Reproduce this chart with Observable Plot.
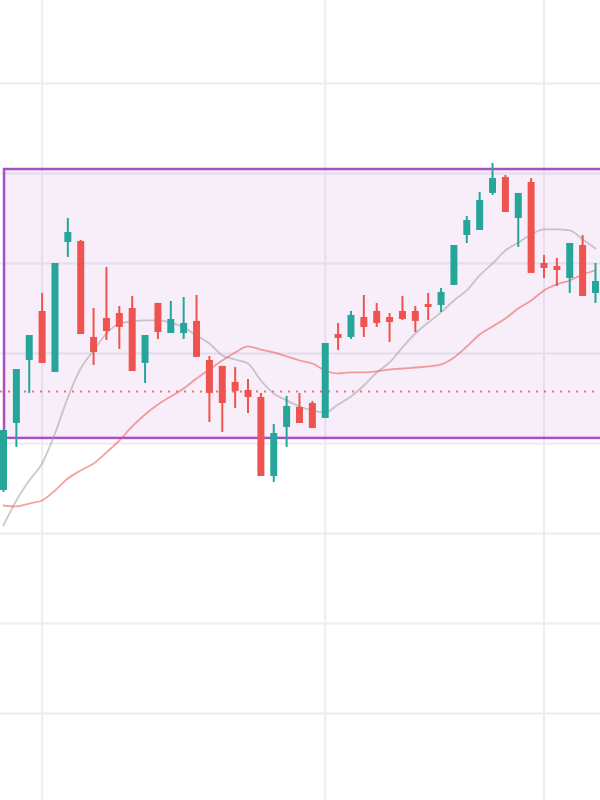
<!DOCTYPE html>
<html>
<head>
<meta charset="utf-8">
<script src="https://cdn.jsdelivr.net/npm/d3@7"></script>
<script src="https://cdn.jsdelivr.net/npm/@observablehq/plot@0.6"></script>
<style>
  html, body { margin: 0; padding: 0; background: #ffffff; }
  #chart svg { display: block; }
</style>
</head>
<body>
<div id="chart"></div>
<script>
// Candle values (open, high, low, close)
const opens  = [134.78,142.22,149.22,154.67,147.89,162.33,162.44,151.78,153.89,154.44,155.00,148.89,155.56,152.22,152.22,153.56,149.22,148.56,146.78,145.89,145.11,136.33,141.78,144.00,144.44,142.78,152.11,151.78,154.00,154.67,154.00,154.67,154.67,155.44,155.33,157.56,163.11,163.67,167.78,169.56,165.00,169.00,160.00,159.67,158.33,162.00,156.67];
const highs  = [141.44,148.22,152.00,156.67,160.00,165.00,162.56,155.00,159.56,155.22,156.33,152.00,155.56,155.78,156.22,156.44,149.67,148.56,148.44,147.11,145.56,142.11,145.22,145.56,144.67,151.11,153.33,154.67,156.44,155.56,154.44,156.33,155.22,156.67,157.22,162.00,165.22,167.89,171.11,169.78,167.78,169.44,160.89,160.56,162.22,163.11,160.00];
const lows   = [134.56,139.56,145.56,148.89,147.89,160.67,152.11,148.67,151.44,150.44,148.00,146.67,151.56,152.22,151.56,149.56,142.33,141.22,143.89,143.33,136.33,135.67,139.56,142.22,141.67,142.78,150.33,151.56,151.78,152.89,151.22,153.67,152.33,153.67,154.56,157.56,162.22,163.67,167.56,165.67,161.78,158.89,158.33,157.44,156.67,156.33,155.56];
const closes = [141.44,148.22,152.00,148.89,160.00,163.44,152.11,150.11,152.44,152.89,148.00,152.00,152.33,153.78,153.33,149.56,145.56,144.44,145.78,145.11,136.33,141.11,144.11,142.22,141.67,151.11,151.67,154.22,152.89,153.33,153.44,153.78,153.56,155.11,156.78,162.00,164.78,167.00,169.44,165.67,167.78,158.89,159.44,159.22,162.22,156.33,158.00];

// Moving averages
const maFast = [130.89,133.67,135.89,137.78,141.11,145.11,148.33,150.33,152.22,153.33,153.56,153.67,153.67,153.44,152.89,152.00,151.11,149.78,149.33,148.89,147.00,145.56,144.78,144.11,143.67,143.44,144.33,145.22,146.44,147.89,149.00,150.67,152.22,153.44,154.56,155.89,157.00,158.67,160.00,161.44,162.33,163.22,163.78,163.78,163.67,162.67,161.67];
const maSlow = [133.11,133.00,133.33,133.67,134.78,136.11,137.00,137.78,139.00,140.33,141.89,143.22,144.33,145.22,146.11,147.22,148.22,149.22,150.11,150.78,150.44,150.11,149.67,149.22,148.89,148.11,147.78,147.89,147.89,148.00,148.22,148.33,148.44,148.56,148.78,149.56,150.78,152.11,153.00,153.89,155.00,155.89,157.00,157.67,158.11,158.78,159.22];

// Zone, level and grid
const zoneStart = 0.08, zoneEnd = 60, zoneHigh = 170.44, zoneLow = 140.56;
const levelPrice = 145.78;
const priceTicks = [110, 120, 130, 140, 150, 160, 170, 180];
const periodStarts = [3, 25, 42];

const candles = opens.map((o, i) => ({
  i, open: o, high: highs[i], low: lows[i], close: closes[i],
  up: closes[i] >= o
}));
const fast = maFast.map((v, i) => ({i, v}));
const slow = maSlow.map((v, i) => ({i, v}));
const zone = [{x1: zoneStart, x2: zoneEnd, y1: zoneLow, y2: zoneHigh}];

const UP = "#26a69a", DOWN = "#ef5350";

const chart = Plot.plot({
  width: 600,
  height: 800,
  margin: 0,
  x: {domain: [-0.233, 46.39], axis: null},
  y: {domain: [100.33, 189.22], axis: null},
  marks: [
    Plot.ruleY(priceTicks, {stroke: "#ececf4", strokeWidth: 2}),
    Plot.ruleX(periodStarts, {stroke: "#ececf4", strokeWidth: 2}),
    Plot.rect(zone, {x1: "x1", x2: "x2", y1: "y1", y2: "y2",
      fill: "#9c27b0", fillOpacity: 0.08, stroke: "#a94ec4", strokeWidth: 2.5, clip: true}),
    Plot.ruleY([levelPrice], {stroke: DOWN, strokeOpacity: 0.8, strokeWidth: 2, strokeDasharray: "2,6"}),
    Plot.line(fast, {x: "i", y: "v", stroke: "#9e9e9e", strokeOpacity: 0.55, strokeWidth: 1.8, curve: "monotone-x", clip: true}),
    Plot.line(slow, {x: "i", y: "v", stroke: DOWN, strokeOpacity: 0.55, strokeWidth: 1.8, curve: "monotone-x", clip: true}),
    Plot.ruleX(candles, {x: "i", y1: "low", y2: "high",
      stroke: d => d.up ? UP : DOWN, strokeWidth: 2, clip: true}),
    Plot.ruleX(candles, {x: "i", y1: "open", y2: "close",
      stroke: d => d.up ? UP : DOWN, strokeWidth: 7, clip: true})
  ]
});
document.getElementById("chart").appendChild(chart);
</script>
</body>
</html>
